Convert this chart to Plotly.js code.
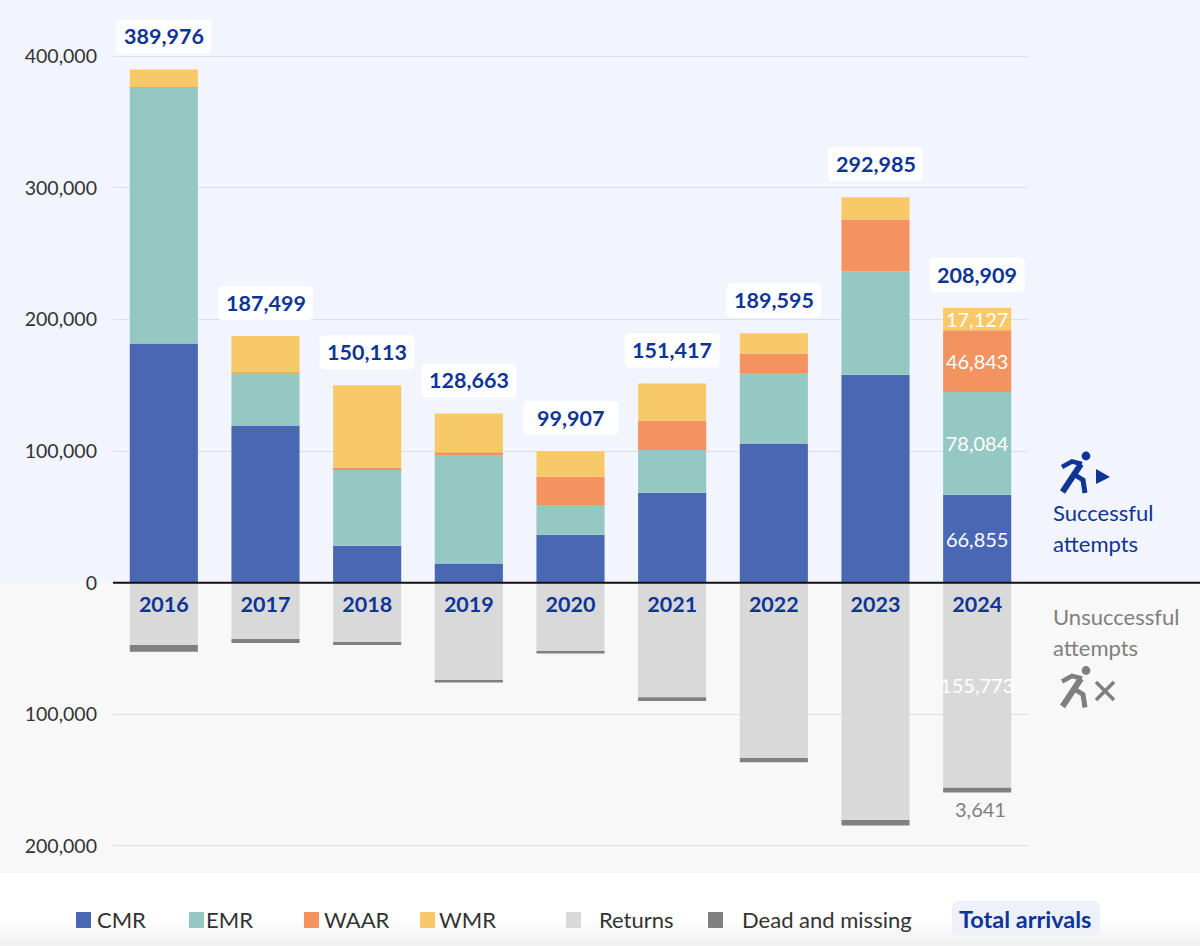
<!DOCTYPE html>
<html>
<head>
<meta charset="utf-8">
<script src="https://cdn.plot.ly/plotly-3.0.1.min.js"></script>
<style>
  html, body { margin: 0; padding: 0; }
  body { background: linear-gradient(#ffffff 0, #ffffff 918px, #f1f1f1 946px); }
  #graphDiv { width: 1200px; height: 946px; }
</style>
</head>
<body>
<div id="graphDiv"></div>
<script>
// data *********************************************
const years = ['2016', '2017', '2018', '2019', '2020', '2021', '2022', '2023', '2024'];
const totals = [389976, 187499, 150113, 128663, 99907, 151417, 189595, 292985, 208909];

const cmr = [181700, 119000, 28000, 14500, 36500, 68300, 105700, 158000, 66855];
const emr = [194500, 40500, 57900, 82000, 21900, 32500, 53000, 78500, 78084];
const waar = [350, 250, 1300, 2700, 22200, 22500, 15500, 39500, 46843];
const wmr = [13426, 27749, 62913, 29463, 19307, 28117, 15395, 16985, 17127];
const returns = [-47300, -42700, -45000, -73900, -51900, -87000, -133300, -180300, -155773];
const dead = [-5100, -3100, -2300, -1900, -1900, -2900, -3200, -4200, -3641];

const yTickVals = [400000, 300000, 200000, 100000, 0, -100000, -200000];
const yTickText = ['400,000', '300,000', '200,000', '100,000', '0', '100,000', '200,000'];

const legendNames = ['CMR', 'EMR', 'WAAR', 'WMR', 'Returns', 'Dead and missing'];

// style ********************************************
const fontName = 'Lato, "Open Sans", sans-serif';
const blue = '#0e3596';
const grey = '#7f7f7f';
const colCMR = '#4a67b4';
const colEMR = '#95c8c2';
const colWAAR = '#f3935f';
const colWMR = '#f8c968';
const colReturns = '#d9d9d9';
const colDead = '#808080';
const legendColors = [colCMR, colEMR, colWAAR, colWMR, colReturns, colDead];
const legendSwatchX = [76, 189, 304, 420, 566, 708];
const legendTextX = [98, 207, 325, 440, 600, 743];

// page px to paper fractions, the plot area is x 113-1028, y 0-873
const pxX = x => (x - 113) / 915;
const pxY = y => (873 - y) / 873;

function lastOnly(values) {
  return values.map((v, i) => i === values.length - 1 ? Math.abs(v).toLocaleString('en-US') : '');
}

function barTrace(name, values, color, showText) {
  const trace = {
    name: name, type: 'bar', x: years, y: values,
    marker: { color: color, line: { width: 0 } }
  };
  if (showText) {
    trace.text = lastOnly(values);
    trace.textposition = 'inside';
    trace.insidetextanchor = 'middle';
    trace.constraintext = 'none';
    trace.textangle = 0;
    trace.insidetextfont = { family: fontName, size: 20, color: '#ffffff' };
  }
  return trace;
}

const traces = [
  barTrace('CMR', cmr, colCMR, true),
  barTrace('EMR', emr, colEMR, true),
  barTrace('WAAR', waar, colWAAR, true),
  barTrace('WMR', wmr, colWMR, true),
  barTrace('Returns', returns, colReturns, true),
  barTrace('Dead and missing', dead, colDead, false)
];

function textNote(x, y, text, color, size) {
  return {
    xref: 'paper', yref: 'paper', x: pxX(x), y: pxY(y), xanchor: 'left', yanchor: 'middle',
    text: text, showarrow: false, font: { family: fontName, size: size, color: color }
  };
}

// totals above the bars, x has to be the index: a year string counts as a range value
const annotations = years.map((year, i) => ({
  xref: 'x', yref: 'y', x: i, y: totals[i], yshift: 33,
  xanchor: 'center', yanchor: 'middle',
  text: '<b>' + totals[i].toLocaleString('en-US') + '</b>', showarrow: false,
  font: { family: fontName, size: 21.5, color: blue }
}));

// dead and missing 2024, the bar is too thin to hold it
const lastI = years.length - 1;
annotations.push({
  xref: 'x', yref: 'y', x: lastI, y: returns[lastI] + dead[lastI], yshift: -17,
  xanchor: 'center', yanchor: 'middle', xshift: 3,
  text: Math.abs(dead[lastI]).toLocaleString('en-US'), showarrow: false,
  font: { family: fontName, size: 20, color: grey }
});

annotations.push(textNote(1051, 512.5, 'Successful', blue, 22));
annotations.push(textNote(1051, 543.5, 'attempts', blue, 22));
annotations.push(textNote(1051, 616.5, 'Unsuccessful', grey, 22));
annotations.push(textNote(1051, 647.5, 'attempts', grey, 22));

legendNames.forEach((name, i) => {
  annotations.push(textNote(legendTextX[i] - 3, 919.5, name, '#333333', 22));
});
annotations.push(textNote(957, 919, '<b>Total arrivals</b>', blue, 23.5));

function rectPx(x0, y0, x1, y1, color, layer) {
  return {
    type: 'rect', xref: 'paper', yref: 'paper', layer: layer || 'below',
    x0: pxX(x0), x1: pxX(x1), y0: pxY(y1), y1: pxY(y0),
    fillcolor: color, line: { width: 0 }
  };
}

// rounded box in px around an anchor
function roundBox(l, b, r, t, rad) {
  return 'M' + (l + rad) + ',' + b + ' L' + (r - rad) + ',' + b + ' Q' + r + ',' + b + ' ' + r + ',' + (b + rad) +
    ' L' + r + ',' + (t - rad) + ' Q' + r + ',' + t + ' ' + (r - rad) + ',' + t +
    ' L' + (l + rad) + ',' + t + ' Q' + l + ',' + t + ' ' + l + ',' + (t - rad) +
    ' L' + l + ',' + (b + rad) + ' Q' + l + ',' + b + ' ' + (l + rad) + ',' + b + ' Z';
}

// pixel path shapes, anchored on the page
function iconPath(ax, ay, path, color, fill, width) {
  return {
    type: 'path', layer: 'above', xref: 'paper', yref: 'paper',
    xsizemode: 'pixel', ysizemode: 'pixel', xanchor: pxX(ax), yanchor: pxY(ay),
    path: path, fillcolor: fill ? color : 'rgba(0,0,0,0)',
    line: { color: fill ? 'rgba(0,0,0,0)' : color, width: width || 0 }
  };
}

function runner(ax, ay, color) {
  return [
    // head
    {
      type: 'circle', layer: 'above', xref: 'paper', yref: 'paper',
      xsizemode: 'pixel', ysizemode: 'pixel', xanchor: pxX(ax), yanchor: pxY(ay),
      x0: 6.6, x1: 15.4, y0: 11.6, y1: 20.4, fillcolor: color, line: { width: 0 }
    },
    // arm and shoulder
    iconPath(ax, ay, 'M-13,5 L-3,10.5 L7,8', color, false, 4.5),
    // body and front leg
    iconPath(ax, ay, 'M6,8 L-12.5,-20', color, false, 6),
    // rear leg
    iconPath(ax, ay, 'M0,-3 L8,-8 L10,-21', color, false, 5)
  ];
}

const shapes = [
  rectPx(0, 0, 1200, 582, '#f2f5fd'),
  rectPx(0, 582, 1200, 873, '#f8f8f8'),
  iconPath(952, 936, roundBox(0, 0, 148, 35, 7), '#eef1fa', true)
];

// white label boxes behind the totals
years.forEach((year, i) => {
  shapes.push({
    type: 'path', layer: 'above', xref: 'x', yref: 'y',
    xsizemode: 'pixel', ysizemode: 'pixel', xanchor: i, yanchor: totals[i],
    path: roundBox(-47.5, 16, 47.5, 50, 5),
    fillcolor: '#ffffff', line: { width: 0 }
  });
});

legendColors.forEach((color, i) => {
  shapes.push(rectPx(legendSwatchX[i], 912, legendSwatchX[i] + 15, 928, color));
});

// zero line runs out to the page edge
shapes.push({
  type: 'line', xref: 'paper', yref: 'y', layer: 'above',
  x0: 0, x1: pxX(1200), y0: 0, y1: 0, line: { color: '#111111', width: 2 }
});

shapes.push(...runner(1075, 472, blue));
shapes.push(iconPath(1075, 472, 'M21,3 L35,-5 L21,-12 Z', blue, true));
shapes.push(...runner(1075, 686.5, grey));
shapes.push(iconPath(1105, 691, 'M-9,9 L9,-9 M-9,-9 L9,9', grey, false, 3.5));

const layout = {
  width: 1200,
  height: 946,
  margin: { l: 113, r: 172, t: 0, b: 73, pad: 0 },
  paper_bgcolor: 'rgba(0,0,0,0)',
  plot_bgcolor: 'rgba(0,0,0,0)',
  barmode: 'relative',
  bargap: 0.33,
  showlegend: false,
  font: { family: fontName, color: '#333333' },
  xaxis: {
    type: 'category', categoryorder: 'array', categoryarray: years,
    tickvals: years, ticktext: years.map(y => '<b>' + y + '</b>'),
    anchor: 'free', position: pxY(582.7), range: [-0.5, 8.5],
    showline: false, showgrid: false, zeroline: false,
    ticks: '', ticklabelstandoff: 7,
    tickfont: { family: fontName, size: 21.5, color: blue }
  },
  yaxis: {
    range: [-220593, 442781], tickvals: yTickVals, ticktext: yTickText,
    showgrid: true, gridcolor: '#dcdfe6', gridwidth: 1.2,
    zeroline: false, showline: false, ticks: '', ticklabelstandoff: 15,
    tickfont: { family: fontName, size: 19.5, color: '#333333' }
  },
  shapes: shapes,
  annotations: annotations
};

Plotly.newPlot('graphDiv', traces, layout, { displayModeBar: false });
</script>
</body>
</html>
